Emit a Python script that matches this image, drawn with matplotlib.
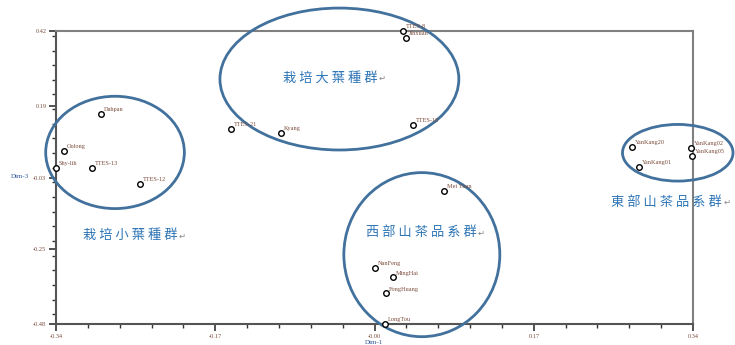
import matplotlib.pyplot as plt
from matplotlib.patches import Ellipse
from matplotlib.ticker import MultipleLocator

plt.rcParams['font.family'] = ['Noto Sans CJK TC', 'DejaVu Sans']

# 點位 (Dim-1, Dim-3)
names = ['TTES-8', 'Jinxuan', 'Dahpan', 'Oolong', 'Shy-lih', 'TTES-13', 'TTES-12',
         'TTES-21', 'Kyang', 'TTES-18', 'Mei Yuan', 'NanFeng', 'MingHai',
         'FongHuang', 'LongTou', 'YanKang20', 'YanKang01', 'YanKang02', 'YanKang05']
dim1 = [0.030, 0.034, -0.292, -0.331, -0.340, -0.302, -0.250,
        -0.153, -0.100, 0.041, 0.074, 0.001, 0.020,
        0.012, 0.011, 0.275, 0.282, 0.338, 0.339]
dim3 = [0.420, 0.400, 0.165, 0.052, 0.000, 0.000, -0.049,
        0.120, 0.108, 0.131, -0.071, -0.308, -0.337,
        -0.386, -0.480, 0.065, 0.003, 0.061, 0.036]

# 群組圈 (中心x, 中心y, 寬, 高)
groups = ['栽培小葉種群', '栽培大葉種群', '西部山茶品系群', '東部山茶品系群']
ell_cx = [-0.277, -0.0375, 0.0505, 0.3237]
ell_cy = [0.047, 0.2725, -0.267, 0.046]
ell_w = [0.148, 0.255, 0.1665, 0.118]
ell_h = [0.345, 0.436, 0.504, 0.174]
grp_x = [-0.311, -0.098, -0.0095, 0.2525]
grp_y = [-0.209, 0.275, -0.200, -0.107]

xticks = [-0.34, -0.17, 0.0, 0.17, 0.34]
xtick_labels = ['-0.34', '-0.17', '-0.00', '0.17', '0.34']
yticks = [0.42, 0.19, -0.03, -0.25, -0.48]
ytick_labels = ['0.42', '0.19', '-0.03', '-0.25', '-0.48']

fig = plt.figure(figsize=(7.35, 3.45), dpi=100)
ax = fig.add_axes([0.0762, 0.0609, 0.8667, 0.8492])
ax.set_xlim(-0.34, 0.34)
ax.set_ylim(-0.48, 0.42)

ax.scatter(dim1, dim3, s=16, facecolors='white', edgecolors='black', linewidths=1.0,
           zorder=5, clip_on=False)
for n, x, y in zip(names, dim1, dim3):
    ax.annotate(n, (x, y), xytext=(2, 2), textcoords='offset points', fontsize=4.5,
                family='Liberation Serif', color='#7a4a3a', zorder=6)

for cx, cy, w, h in zip(ell_cx, ell_cy, ell_w, ell_h):
    ax.add_patch(Ellipse((cx, cy), w, h, fill=False, edgecolor='#41719c', lw=2.0,
                         clip_on=False, zorder=4))
for g, x, y in zip(groups, grp_x, grp_y):
    t = ax.text(x, y, ' '.join(g), fontsize=9.5, color='#2e75b6', va='center', ha='left')
    # Word 的段落符號
    ax.annotate('↵', xy=(1, 0.5), xycoords=t, xytext=(1, 0), textcoords='offset points',
                fontsize=6, family='DejaVu Sans', color='#888888', va='center', ha='left')

for side in ['top', 'right']:
    ax.spines[side].set_color('#808080')
    ax.spines[side].set_linewidth(1.5)
for side in ['left', 'bottom']:
    ax.spines[side].set_color('#555555')
    ax.spines[side].set_linewidth(1.5)

ax.set_xticks(xticks)
ax.set_xticklabels(xtick_labels)
ax.set_yticks(yticks)
ax.set_yticklabels(ytick_labels)
ax.xaxis.set_minor_locator(MultipleLocator(0.034))
ax.yaxis.set_minor_locator(MultipleLocator(0.045))
ax.tick_params(which='major', length=5, width=1.2, color='#333333', labelsize=4.5,
               labelcolor='#7a4a3a', pad=2)
ax.tick_params(which='minor', length=3, width=1.0, color='#333333')
for lab in ax.get_xticklabels() + ax.get_yticklabels():
    lab.set_family('Liberation Serif')

fig.text(20 / 735, 1 - 177 / 345, 'Dim-3', fontsize=5, family='Liberation Serif',
         color='#2f5597', ha='center', va='center')
fig.text(374 / 735, 1 - 342 / 345, 'Dim-1', fontsize=5, family='Liberation Serif',
         color='#2f5597', ha='center', va='center')

fig.savefig('out.png', dpi=100)
